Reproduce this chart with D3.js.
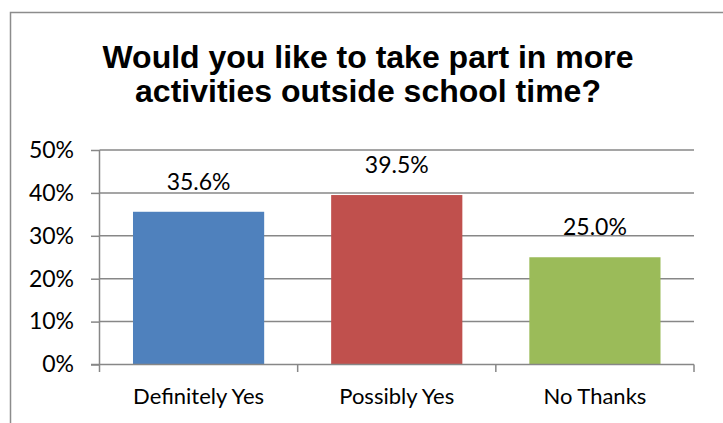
<!DOCTYPE html>
<html>
<head>
<meta charset="utf-8">
<script src="https://cdn.jsdelivr.net/npm/d3@7"></script>
<style>
  html, body { margin: 0; padding: 0; background: #fff; }
  svg { display: block; }
</style>
</head>
<body>
<svg id="chart" width="723" height="423"></svg>
<script>
// Survey answers and their shares (percent)
const categories = ["Definitely Yes", "Possibly Yes", "No Thanks"];
const values = [35.6, 39.5, 25.0];
const colors = ["#4F81BD", "#C0504D", "#9BBB59"];
const yTicks = [0, 10, 20, 30, 40, 50];
const titleLines = ["Would you like to take part in more", "activities outside school time?"];

const svg = d3.select("#chart");
const W = 723, H = 423;
const plot = { left: 99.5, right: 694, top: 150, bottom: 364.5 };
const gridColor = "#878787";
const labelFont = "Lato, 'Open Sans', sans-serif";

// Chart frame (runs off the right and bottom edges)
svg.append("rect")
  .attr("x", 10.5).attr("y", 12.5)
  .attr("width", W + 20).attr("height", H + 20)
  .attr("fill", "#fff")
  .attr("stroke", "#8c8c8c")
  .attr("stroke-width", 1.5);

// Title
svg.append("text")
  .attr("x", 368)
  .attr("font-family", "'Liberation Sans', Arial, sans-serif")
  .attr("font-weight", "bold")
  .attr("font-size", 32)
  .attr("text-anchor", "middle")
  .attr("fill", "#000")
  .selectAll("tspan")
  .data(titleLines)
  .join("tspan")
  .attr("x", 368)
  .attr("y", (d, i) => 68 + i * 33.5)
  .text(d => d);

const x = d3.scaleBand()
  .domain(categories)
  .range([plot.left, plot.right])
  .paddingInner(0.338)
  .paddingOuter(0.169);

const xOuter = d3.scaleBand()
  .domain(categories)
  .range([plot.left, plot.right])
  .padding(0);

const y = d3.scaleLinear()
  .domain([0, 50])
  .range([plot.bottom, plot.top]);

// Horizontal gridlines
svg.append("g")
  .selectAll("line")
  .data(yTicks.filter(t => t > 0))
  .join("line")
  .attr("x1", plot.left).attr("x2", plot.right)
  .attr("y1", d => y(d)).attr("y2", d => y(d))
  .attr("stroke", gridColor)
  .attr("stroke-width", 1.5);

// Y axis with ticks pointing left
const yAxis = svg.append("g")
  .attr("transform", `translate(${plot.left},0)`)
  .call(d3.axisLeft(y).tickValues(yTicks).tickSize(8.5).tickPadding(17)
    .tickFormat(d => d + "%"));
yAxis.select(".domain").remove();
yAxis.selectAll(".tick line").attr("stroke", gridColor).attr("stroke-width", 1.5);
yAxis.selectAll(".tick text")
  .attr("font-family", labelFont)
  .attr("font-size", 23)
  .attr("fill", "#000");
yAxis.append("line")
  .attr("x1", 0).attr("x2", 0)
  .attr("y1", plot.top).attr("y2", plot.bottom + 7.5)
  .attr("stroke", gridColor).attr("stroke-width", 1.5);

// Bars
svg.append("g")
  .selectAll("rect")
  .data(categories)
  .join("rect")
  .attr("x", d => x(d))
  .attr("width", x.bandwidth())
  .attr("y", (d, i) => y(values[i]))
  .attr("height", (d, i) => y(0) - y(values[i]))
  .attr("fill", (d, i) => colors[i]);

// Value labels
svg.append("g")
  .selectAll("text")
  .data(categories)
  .join("text")
  .attr("x", d => x(d) + x.bandwidth() / 2)
  .attr("y", (d, i) => y(values[i]) - 22)
  .attr("text-anchor", "middle")
  .attr("font-family", labelFont)
  .attr("font-size", 23)
  .attr("fill", "#000")
  .text((d, i) => values[i].toFixed(1) + "%");

// X axis: category boundaries as ticks
const xAxis = svg.append("g")
  .attr("transform", `translate(0,${plot.bottom})`);
xAxis.append("line")
  .attr("x1", plot.left - 8.5).attr("x2", plot.right)
  .attr("y1", 0).attr("y2", 0)
  .attr("stroke", gridColor).attr("stroke-width", 1.5);
const bounds = categories.map(c => xOuter(c)).concat([plot.right]);
xAxis.selectAll("line.b")
  .data(bounds.slice(1))
  .join("line")
  .attr("class", "b")
  .attr("x1", d => d).attr("x2", d => d)
  .attr("y1", 0).attr("y2", 7.5)
  .attr("stroke", gridColor).attr("stroke-width", 1.5);
xAxis.selectAll("text")
  .data(categories)
  .join("text")
  .attr("x", d => xOuter(d) + xOuter.bandwidth() / 2)
  .attr("y", 39)
  .attr("text-anchor", "middle")
  .attr("font-family", labelFont)
  .attr("font-size", 22)
  .attr("fill", "#000")
  .text(d => d);
</script>
</body>
</html>
